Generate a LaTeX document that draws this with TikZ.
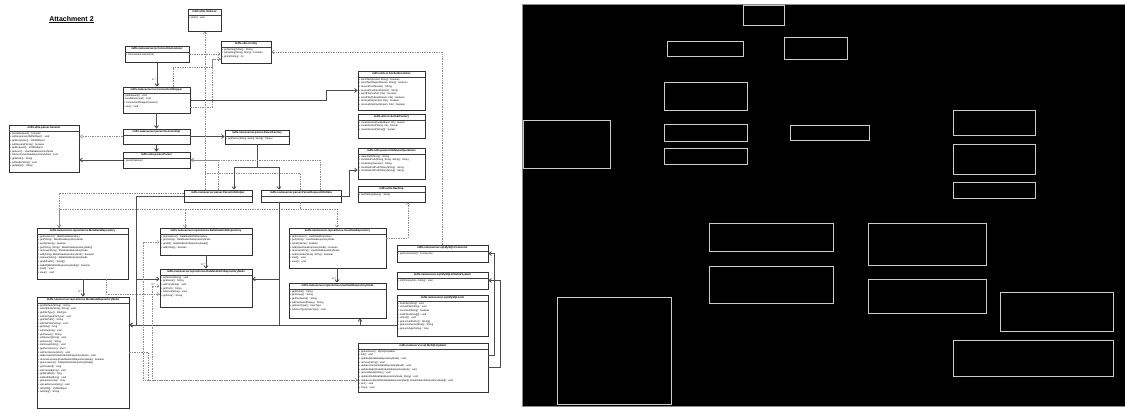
\documentclass[tikz,border=0pt]{standalone}
\usepackage{fontspec}
\setmainfont{Liberation Sans}
\usetikzlibrary{positioning, fit, shadows, arrows.meta}

\tikzset{
  classbox/.style = {draw=black!80, line width=0.9pt, fill=white, inner sep=0pt, drop shadow={opacity=0.4, shadow xshift=1pt, shadow yshift=-1pt}},
  classtitle/.style = {anchor=north, minimum height=6.5pt, inner sep=0pt, font=\fontsize{2.7}{3}\selectfont\bfseries},
  classbody/.style = {anchor=north west, inner sep=0pt, align=left, font=\fontsize{2.5}{3.6}\selectfont},
  classline/.style = {draw=black!75, line width=0.5pt},
  mult/.style = {font=\fontsize{2.6}{3}\selectfont, inner sep=0.6pt},
  assoc/.style = {draw=black!70, line width=0.8pt, -{Straight Barb[length=2.4pt, width=4pt]}},
  depend/.style = {draw=black!45, line width=0.45pt, dash pattern=on 1.4pt off 1pt, -{Straight Barb[length=2.4pt, width=4pt]}},
  realize/.style = {draw=black!45, line width=0.45pt, dash pattern=on 1.4pt off 1pt, -{Triangle[open, length=2.8pt, width=3.4pt]}},
  maskbox/.style = {draw=white!80!black, line width=0.8pt}
}

% class box: name, top left, bottom right, title, members
\newcommand{\umlclass}[5]{%
  \node[classbox, fit={#2 #3}] (#1) {};
  \node[classtitle] (#1-t) at (#1.north) {#4};
  \draw[classline] (#1.west |- #1-t.south) -- (#1.east |- #1-t.south);
  \coordinate (#1-l) at (#1.west |- #1-t.south);
  \node[classbody] at ([xshift=1.2pt, yshift=-0.8pt]#1-l) {#5};
}

\begin{document}
\begin{tikzpicture}[x=1pt, y=-1pt]
    \useasboundingbox (0,0) rectangle (1125,410);
    \node[font=\fontsize{7}{8}\selectfont\bfseries] (title) at (71.5,19.5) {\underline{Attachment 2}};

    % classes
    \umlclass{verbose}{(188,9)}{(221,31)}{mdfs.utils.Verbose}{+ print() : void}
    \umlclass{conlisten}{(125,46)}{(189,62)}{mdfs.nameserver.io.ConnectionListener}{+ ConnectionListener(int)}
    \umlclass{config}{(221,41)}{(271,63)}{mdfs.utils.Config}{+ getSetting(String) : String\\+ setSetting(String, String) : boolean\\+ getInt(String) : int}
    \umlclass{conwrap}{(123,87)}{(190,113)}{mdfs.nameserver.io.ConnectionWrapper}{- getRequest() : void\\- sendResponse() : void\\+ ConnectionWrapper(Socket)\\+ run() : void}
    \umlclass{sessimpl}{(123,129)}{(190,144)}{mdfs.nameserver.parser.SessionImpl}{}
    \umlclass{session}{(9,125)}{(79,172)}{mdfs.utils.parser.Session}{+ parseRequest() : boolean\\+ setResponse(JSONObject) : void\\+ getResponse() : JSONObject\\+ setRequest(String) : boolean\\+ getRequest() : JSONObject\\+ getUser() : UserDataRepositoryNode\\+ setUser(UserDataRepositoryNode) : void\\+ getMode() : String\\+ setMode(String) : void\\+ getStage() : String}
    \umlclass{parser}{(123,152)}{(190,168)}{mdfs.utils.parser.Parser}{+ parse(Session)}
    \umlclass{parserfac}{(225,130)}{(289,144)}{mdfs.nameserver.parser.ParserFactory}{+ getParser(String, String, String) : Parser}
    \umlclass{infohelper}{(184,190)}{(252,202)}{mdfs.nameserver.parser.ParserInfoHelper}{}
    \umlclass{reqinfo}{(261,190)}{(341,202)}{mdfs.nameserver.parser.ParserRequestInfoData}{}
    \umlclass{sockfunc}{(358,71)}{(425,110)}{mdfs.utils.io.SocketFunctions}{+ sendText(Socket, String) : boolean\\+ sendText(OutputStream, String) : boolean\\+ receiveText(Socket) : String\\+ receiveText(InputStream) : String\\+ sendFile(Socket, File) : boolean\\+ sendFile(OutputStream, File) : boolean\\+ receiveFile(Socket, File) : boolean\\+ receiveFile(InputStream, File) : boolean}
    \umlclass{sockfac}{(358,114)}{(425,138)}{mdfs.utils.io.SocketFactory}{+ createSocket(InetAddress, int) : Socket\\+ createSocket(String, int) : Socket\\+ createSocket(String[]) : Socket}
    \umlclass{filename}{(358,148)}{(425,179)}{mdfs.utils.parser.FileNameOperations}{+ cleanPath(String) : String\\+ translatePath(String, String, String) : String\\+ createKey(Session) : String\\+ translateFullPathToKey(String) : String\\+ translateFilePathToKey(String) : String}
    \umlclass{hashing}{(358,186)}{(425,202)}{mdfs.utils.Hashing}{+ hashString(String) : String}
    \umlclass{metarepo}{(37,228)}{(128,279)}{mdfs.nameserver.repositories.MetaDataRepository}{+ getInstance() : MetaDataRepository\\+ get(String) : MetaDataRepositoryNode\\+ exists(String) : boolean\\+ get(String, String) : MetaDataRepositoryNode[]\\+ remove(String) : MetaDataRepositoryNode\\+ add(String, MetaDataRepositoryNode) : boolean\\+ replace(String) : MetaDataRepositoryNode\\+ getAllPaths() : String[]\\+ addAll(MetaDataRepositoryNode[]) : boolean\\+ load() : void\\+ save() : void}
    \umlclass{metanode}{(37,297)}{(129,408)}{mdfs.nameserver.repositories.MetaDataRepositoryNode}{+ getAttribute(String) : String\\+ setAttribute(String, String) : void\\+ getFileType() : FileType\\+ setFileType(FileType) : void\\+ getFilePath() : String\\+ setFilePath(String) : void\\+ getSize() : long\\+ setSize(long) : void\\+ getOwner() : String\\+ setOwner(String) : void\\+ getGroup() : String\\+ setGroup(String) : void\\+ getPermission() : short\\+ setPermission(short) : void\\+ addLocation(DataNodeInfoRepositoryNode) : void\\+ removeLocation(DataNodeInfoRepositoryNode) : boolean\\+ getLocations() : DataNodeInfoRepositoryNode[]\\+ getCreated() : long\\+ setCreated(long) : void\\+ getModified() : long\\+ setModified(long) : void\\+ getLastAccess() : long\\+ setLastAccess(long) : void\\+ toJSON() : JSONObject\\+ toString() : String}
    \umlclass{datarepo}{(160,228)}{(252,255)}{mdfs.nameserver.repositories.DataNodeInfoRepository}{+ getInstance() : DataNodeInfoRepository\\+ get(String) : DataNodeInfoRepositoryNode\\+ getAll() : DataNodeInfoRepositoryNode[]\\+ add(String) : boolean}
    \umlclass{datanode}{(160,269)}{(252,307)}{mdfs.nameserver.repositories.DataNodeInfoRepositoryNode}{+ setName(String) : void\\+ getName() : String\\+ setPort(String) : void\\+ getPort() : String\\+ setHost(String) : void\\+ getHost() : String}
    \umlclass{userrepo}{(289,228)}{(386,268)}{mdfs.nameserver.repositories.UserDataRepository}{+ getInstance() : UserDataRepository\\+ get(String) : UserDataRepositoryNode\\+ exists(String) : boolean\\+ add(UserDataRepositoryNode) : boolean\\+ remove(String) : UserDataRepositoryNode\\+ authenticate(String, String) : boolean\\+ load() : void\\+ save() : void}
    \umlclass{usernode}{(289,283)}{(386,318)}{mdfs.nameserver.repositories.UserDataRepositoryNode}{+ getName() : String\\+ getGroup() : String\\+ getPassword() : String\\+ setPassword(String) : String\\+ getUserType() : UserType\\+ setUserType(UserType) : void}
    \umlclass{sqlconn}{(397,245)}{(488,262)}{mdfs.nameserver.sql.MySQLConnector}{+ getConnection() : Connection}
    \umlclass{sqlinit}{(397,272)}{(488,289)}{mdfs.nameserver.sql.MySQLInitializeSystem}{+ init(Connection, String) : void}
    \umlclass{sqllock}{(397,295)}{(488,336)}{mdfs.nameserver.sql.MySQLLock}{+ lockFile(String) : void\\+ unlockFile(String) : void\\+ isLocked(String) : boolean\\+ lockFiles(String[]) : void\\+ unlock() : void\\+ getLockedPaths() : String[]\\+ getLockOwner(String) : String\\+ getLockAge(String) : long}
    \umlclass{sqlupd}{(358,343)}{(488,392)}{mdfs.nameserver.sql.MySQLUpdater}{+ getInstance() : MySQLUpdater\\+ init() : void\\+ update(MetaDataRepositoryNode) : void\\+ remove(String) : void\\+ updateUser(UserDataRepositoryNode) : void\\+ updateNode(DataNodeInfoRepositoryNode) : void\\+ removeNode(String) : void\\+ updateFile(MetaDataRepositoryNode, String) : void\\+ updateLocations(MetaDataRepositoryNode, DataNodeInfoRepositoryNode[]) : void\\+ run() : void\\+ stop() : void}

    % connectors
    \coordinate (vjoin) at (205,173);
    \coordinate (pfsplit) at (257,167);
    \coordinate (rsplit) at (300,209);
    \coordinate (lockjoin) at (279,325);
    \draw[assoc] (conlisten.south) -- node[mult, pos=0.7, left]{0..*} (conlisten.south |- conwrap.north);
    \draw[assoc] (conwrap.south) -- (conwrap.south |- sessimpl.north);
    \draw[assoc] (sessimpl.south) -- (sessimpl.south |- parser.north);
    \draw[realize] (sessimpl.west) -- (sessimpl.west -| session.east);
    \draw[assoc] (parser.west) -- (parser.west -| session.east);
    \draw[assoc] (sessimpl.east) -- (sessimpl.east -| parserfac.west);
    \draw[assoc] (conwrap.east) -- ++(136,0) |- (sockfunc.west);
    \draw[depend] (conlisten.east) -- (conlisten.east -| config.west);
    \draw[depend] (conwrap.north -| 173,0) |- (212,67) |- (config.west |- 0,59);
    \draw[depend] (conwrap.east |- 0,107) -- ++(22,0) |- (config.west |- 0,59);
    \draw[depend] (infohelper.north -| vjoin) -- (verbose.south -| vjoin);
    \draw[depend, -] (reqinfo.north -| 300,0) |- (vjoin);
    \draw[depend] (sqlconn.north -| 442,0) |- (config.east);
    \draw[assoc] (parserfac.south) -- (parserfac.south |- pfsplit) -| (infohelper.north -| 234,0);
    \draw[assoc] (parserfac.south |- pfsplit) -| (reqinfo.north -| 279,0);
    \draw[realize] (reqinfo.north -| 320,0) |- (parser.east);
    \draw[realize] (infohelper.north -| 218,0) |- (parser.east);
    \draw[assoc] (infohelper.west) -| (136,279) -- (datanode.west |- 0,279);
    \draw[assoc] (infohelper.west) -| (136,325) -- (metanode.east |- 0,325);
    \draw[depend] (infohelper.west |- 0,193) -| (metarepo.north -| 59,0);
    \draw[assoc] (metarepo.south -| 83,0) -- node[mult, pos=0.7, left]{0..*} (metanode.north -| 83,0);
    \draw[assoc] (datarepo.south -| 206,0) -- node[mult, pos=0.7, left]{0..*} (datanode.north -| 206,0);
    \draw[assoc] (userrepo.south -| 337,0) -- node[mult, pos=0.7, left]{0..*} (usernode.north -| 337,0);
    \draw[depend] (reqinfo.south -| rsplit) -- (rsplit) -| (userrepo.north -| 337,0);
    \draw[depend] (reqinfo.south -| rsplit) -- (rsplit) -| (datarepo.north -| 185,0);
    \draw[depend] (reqinfo.south -| rsplit) -- (rsplit) -| (metarepo.north -| 59,0);
    \draw[assoc] (reqinfo.south -| lockjoin) |- (datanode.east |- 0,279);
    \draw[assoc, -] (reqinfo.south -| lockjoin) -- (lockjoin);
    \draw[assoc] (sqllock.west |- lockjoin) -- (metanode.east |- lockjoin);
    \draw[assoc] (sqllock.west |- lockjoin) -| (usernode.south -| 360,0);
    \draw[assoc] (reqinfo.east) -- ++(8,0) |- (filename.west |- 0,170);
    \draw[depend] (userrepo.east |- 0,238) -| (hashing.south -| 408,0);
    \draw[assoc] (sqlupd.east |- 0,367) -- ++(12,0) |- (sqlinit.east);
    \draw[assoc] (sqlupd.east |- 0,355) -- ++(6,0) |- (sqlconn.east);
    \draw[depend] (metanode.east |- 0,352) -| (148,380) -- (sqlupd.west |- 0,380);
    \draw[depend] (sqlupd.west |- 0,380) -| (143,242) -- (datarepo.west |- 0,242);
    \draw[depend] (sqlupd.west |- 0,380) -| (152,286) -- node[mult, above, pos=0.2]{0..*} (datanode.west |- 0,286);
    \draw[depend] (metarepo.south -| 106,0) |- (datanode.west |- 0,294);

    % right panel
    \filldraw[fill=black, draw=black!45, line width=0.8pt] (522.5,4.5) rectangle (1125.5,406.5);
    \draw[maskbox] (743,5) rectangle (784,25) (667,41) rectangle (743,56) (784,37) rectangle (847,59)
        (664,82) rectangle (747,110) (664,124) rectangle (747,141) (664,148) rectangle (747,164)
        (523,120) rectangle (610,168) (790,125) rectangle (869,140)
        (953,110) rectangle (1035,135) (953,144) rectangle (1035,174) (953,182) rectangle (1035,198)
        (709,223) rectangle (833,251) (709,266) rectangle (833,303) (557,297) rectangle (671,404)
        (868,223) rectangle (986,265) (868,279) rectangle (986,313)
        (1000,292) rectangle (1113,331) (953,340) rectangle (1113,376);
\end{tikzpicture}
\end{document}
